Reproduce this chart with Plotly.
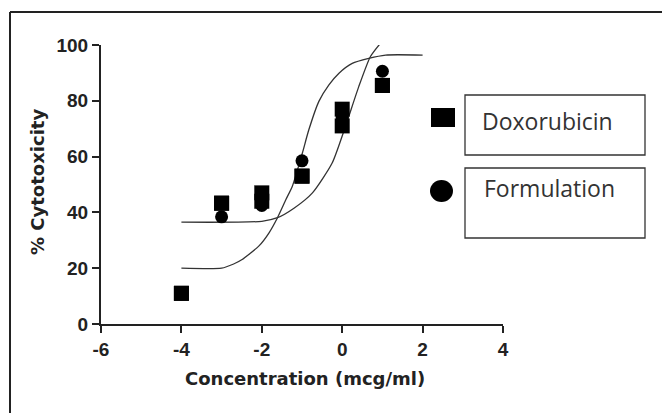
import plotly.graph_objects as go

# ---- data ----
dox_x = [-4, -4, -3, -3, -2, -2, -1, -1, 0, 0, 1, 1]
dox_y = [11, 11, 43.3, 43.3, 47, 44, 53, 53, 77, 71, 85.5, 85.5]

form_x = [-4, -3, -2, -1, 0, 1]
form_y = [10.8, 38.4, 42.5, 58.5, 74, 90.6]

# fitted curves as traced on the picture
curve_a_x = [-4, -2.0, -1.61, -1.2, -0.74, -0.25, 0.08, 0.41, 0.70, 0.95]
curve_a_y = [36.5, 36.8, 38.1, 41.5, 47, 57.7, 70.8, 85, 95.8, 100.6]

curve_b_x = [-4, -3, -2.7, -2.5, -2.07, -1.82, -1.61, -1.40, -1.24, -0.99,
             -0.83, -0.58, -0.33, -0.08, 0.25, 0.66, 1.08, 2.0]
curve_b_y = [20, 20, 21.5, 23, 28, 32.7, 38.1, 44.6, 49.4, 61.3,
             69.6, 79.8, 85.7, 89.9, 93.4, 95.2, 96.4, 96.4]

x_ticks = [-6, -4, -2, 0, 2, 4]
y_ticks = [0, 20, 40, 60, 80, 100]

legend_labels = ["Doxorubicin", "Formulation"]

# ---- layout geometry (screen pixels; page body has an 8px margin) ----
OFF = 8
W, H = 670 - OFF, 413 - OFF
L, R, T, B = 101 - OFF, 503 - OFF, 45 - OFF, 324 - OFF


def px(x):
    return (x - OFF - L) / (R - L)


def py(y):
    return (B - (y - OFF)) / (B - T)


tick_font = dict(family="Liberation Sans, Arial", size=19, color="#222222", weight="bold")
title_font = dict(family="DejaVu Sans", size=18, color="#222222", weight="bold")
legend_font = dict(family="Open Sans, sans-serif", size=23, color="#333333")

fig = go.Figure()

for cx, cy in [(curve_a_x, curve_a_y), (curve_b_x, curve_b_y)]:
    fig.add_trace(go.Scatter(x=cx, y=cy, mode="lines",
                             line=dict(color="#333333", width=1.3, shape="spline", smoothing=0.6),
                             hoverinfo="skip", showlegend=False, cliponaxis=False))

fig.add_trace(go.Scatter(x=dox_x, y=dox_y, mode="markers", name=legend_labels[0],
                         marker=dict(symbol="square", size=15, color="black"),
                         showlegend=False, cliponaxis=False))
fig.add_trace(go.Scatter(x=form_x, y=form_y, mode="markers", name=legend_labels[1],
                         marker=dict(symbol="circle", size=13, color="black"),
                         showlegend=False, cliponaxis=False))

shapes = []
# outer frame (top and left edges)
shapes.append(dict(type="line", xref="paper", yref="paper",
                   x0=px(10), y0=py(12), x1=px(680), y1=py(12),
                   line=dict(color="#222222", width=2)))
shapes.append(dict(type="line", xref="paper", yref="paper",
                   x0=px(10), y0=py(12), x1=px(10), y1=py(420),
                   line=dict(color="#222222", width=2)))
# legend boxes
shapes.append(dict(type="rect", xref="paper", yref="paper",
                   x0=px(465), y0=py(95), x1=px(645), y1=py(155),
                   line=dict(color="#333333", width=1.3)))
shapes.append(dict(type="rect", xref="paper", yref="paper",
                   x0=px(465), y0=py(168), x1=px(645), y1=py(238),
                   line=dict(color="#333333", width=1.3)))
# legend symbols
shapes.append(dict(type="rect", xref="paper", yref="paper",
                   x0=px(431), y0=py(108), x1=px(455), y1=py(127),
                   fillcolor="black", line=dict(color="black", width=0)))
shapes.append(dict(type="circle", xref="paper", yref="paper",
                   x0=px(430), y0=py(180), x1=px(453), y1=py(202),
                   fillcolor="black", line=dict(color="black", width=0)))

annotations = [
    dict(text=legend_labels[0], xref="paper", yref="paper", x=px(480), y=py(121),
         xanchor="left", yanchor="middle", showarrow=False, font=legend_font),
    dict(text=legend_labels[1], xref="paper", yref="paper", x=px(482), y=py(188),
         xanchor="left", yanchor="middle", showarrow=False, font=legend_font),
    dict(text="Concentration (mcg/ml)", xref="paper", yref="paper",
         x=px(305), y=py(378), xanchor="center", yanchor="middle", showarrow=False,
         font=title_font),
    dict(text="% Cytotoxicity", xref="paper", yref="paper",
         x=px(37), y=py(182), xanchor="center", yanchor="middle", showarrow=False,
         textangle=-90, font=title_font),
]

fig.update_layout(
    width=W, height=H,
    margin=dict(l=L, r=W - R, t=T, b=H - B, pad=0),
    paper_bgcolor="white", plot_bgcolor="white",
    shapes=shapes, annotations=annotations,
    hovermode=False,
    xaxis=dict(range=[-6, 4], tickvals=x_ticks, ticktext=[str(v) for v in x_ticks],
               showgrid=False, zeroline=False, showline=True, linecolor="#222222",
               linewidth=2, ticks="outside", ticklen=7, tickwidth=2, tickcolor="#222222",
               tickfont=tick_font, fixedrange=True),
    yaxis=dict(range=[0, 100], tickvals=y_ticks, ticktext=[str(v) for v in y_ticks],
               showgrid=False, zeroline=False, showline=True, linecolor="#222222",
               linewidth=2, ticks="outside", ticklen=7, tickwidth=2, tickcolor="#222222",
               tickfont=tick_font, fixedrange=True),
)

fig.write_html("out.html", config={"displayModeBar": False})
